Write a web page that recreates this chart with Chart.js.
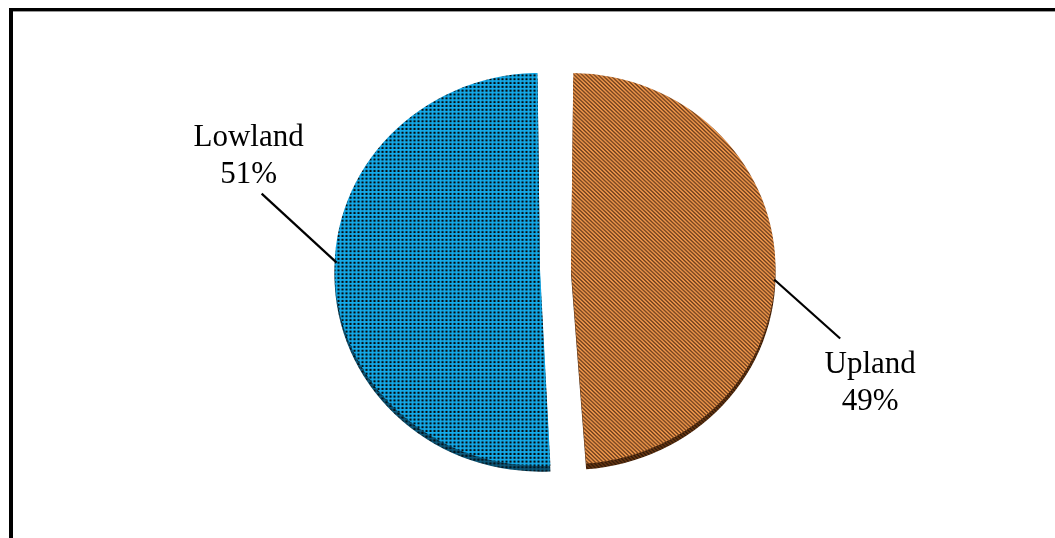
<!DOCTYPE html>
<html>
<head>
<meta charset="utf-8">
<script src="https://cdn.jsdelivr.net/npm/chart.js@4"></script>
<style>
    body { margin: 0; background: #fff; }
    #wrap { position: relative; width: 1055px; height: 538px; overflow: hidden; }
    #frame {
        position: absolute; left: 9px; top: 8px; width: 1100px; height: 600px;
        border-left: 4px solid #000; border-top: 3px solid #000;
        box-shadow: inset 0 1px 0 #999;
    }
    canvas { position: absolute; left: 0; top: 0; }
</style>
</head>
<body>
<div id="wrap">
    <div id="frame"></div>
    <canvas id="pieChart" width="1055" height="538"></canvas>
</div>
<script>
const categories = ["Upland", "Lowland"];
const shares = [49, 51];

// the pie is seen slightly from above, so it is a little flatter than round
const tilt = 0.956;

// where each callout sits, relative to the slice edge
const calloutAngle = [3.2, 182];
const calloutLine = [[66, 59], [-75, -69]];
const calloutText = [[30, 34], [-13, -48]];

function makePattern(bg, cells) {
    const c = document.createElement("canvas");
    c.width = 4;
    c.height = 4;
    const g = c.getContext("2d");
    g.fillStyle = bg;
    g.fillRect(0, 0, 4, 4);
    for (let y = 0; y < 4; y++) {
        for (let x = 0; x < 4; x++) {
            const col = cells(x, y);
            if (col) {
                g.fillStyle = col;
                g.fillRect(x, y, 1, 1);
            }
        }
    }
    return document.getElementById("pieChart").getContext("2d").createPattern(c, "repeat");
}

function stripes(dark, mid) {
    return (x, y) => {
        const k = ((x - y) % 4 + 4) % 4;
        return k === 0 ? dark : k === 1 ? mid : null;
    };
}

function dots(dark, mid) {
    return (x, y) => {
        if (x >= 1 && x <= 2 && y >= 1 && y <= 2) return dark;
        if ((x === 0 && (y === 1 || y === 2)) || (y === 0 && (x === 1 || x === 2))) return mid;
        return null;
    };
}

const fills = [
    makePattern("#f59d50", stripes("#2a150a", "#b8682c")),
    makePattern("#14abea", dots("#070b0e", "#1090c6"))
];
const rims = [
    makePattern("#6b3a14", stripes("#1f0e04", "#40200a")),
    makePattern("#0d5a7c", dots("#04141c", "#083c54"))
];

const squashPlugin = {
    id: "squash",
    beforeDatasetsDraw(chart) {
        const ctx = chart.ctx;
        const cy = (chart.chartArea.top + chart.chartArea.bottom) / 2;
        ctx.save();
        ctx.translate(0, cy);
        ctx.scale(1, tilt);
        ctx.translate(0, -cy);

        // darker rim under the pie for the 3-D edge
        chart.getDatasetMeta(0).data.forEach((arc, i) => {
            const keep = arc.options.backgroundColor;
            arc.options.backgroundColor = rims[i];
            ctx.save();
            ctx.translate(0, 6);
            arc.draw(ctx);
            ctx.restore();
            arc.options.backgroundColor = keep;
        });
    },
    afterDatasetsDraw(chart) {
        chart.ctx.restore();
    }
};

const calloutPlugin = {
    id: "callouts",
    afterDraw(chart) {
        const ctx = chart.ctx;
        chart.getDatasetMeta(0).data.forEach((arc, i) => {
            const shift = arc.options.offset / 4;
            const mid = (arc.startAngle + arc.endAngle) / 2;
            const cx = arc.x + Math.cos(mid) * shift;
            const cy = arc.y + Math.sin(mid) * shift * tilt;
            const a = calloutAngle[i] * Math.PI / 180;
            const r = arc.outerRadius + shift;
            const x0 = cx + Math.cos(a) * (r - 2);
            const y0 = cy + Math.sin(a) * r * tilt;
            const x1 = x0 + calloutLine[i][0];
            const y1 = y0 + calloutLine[i][1];

            ctx.save();
            ctx.strokeStyle = "#000";
            ctx.lineWidth = 2.2;
            ctx.beginPath();
            ctx.moveTo(x0, y0);
            ctx.lineTo(x1, y1);
            ctx.stroke();

            ctx.fillStyle = "#000";
            ctx.font = "31px 'Liberation Serif'";
            ctx.textAlign = "center";
            ctx.textBaseline = "alphabetic";
            const tx = x1 + calloutText[i][0];
            const ty = y1 + calloutText[i][1];
            ctx.fillText(categories[i], tx, ty);
            ctx.fillText(shares[i] + "%", tx, ty + 37);
            ctx.restore();
        });
    }
};

new Chart(document.getElementById("pieChart"), {
    type: "pie",
    data: {
        labels: categories,
        datasets: [{
            data: shares,
            backgroundColor: fills,
            borderWidth: 0,
            offset: 62,
            hoverOffset: 0
        }]
    },
    options: {
        responsive: false,
        animation: false,
        radius: 190,
        layout: { padding: { left: 56, right: 0, top: 0, bottom: 0 } },
        plugins: {
            legend: { display: false },
            tooltip: { enabled: false }
        }
    },
    plugins: [squashPlugin, calloutPlugin]
});
</script>
</body>
</html>
